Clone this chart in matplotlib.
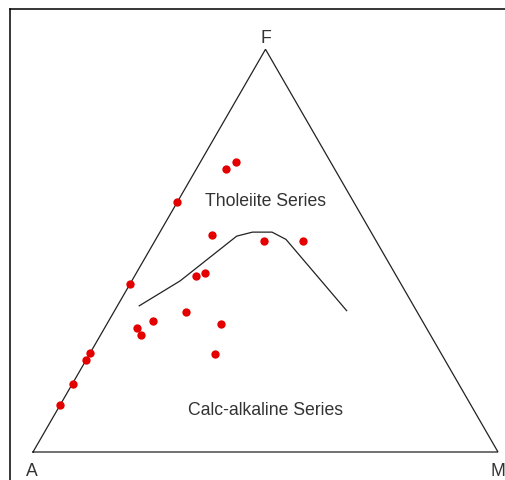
import numpy as np
import matplotlib
matplotlib.use("Agg")
import matplotlib.pyplot as plt
from matplotlib.lines import Line2D

# AFM ternary data: fractions of A (alkalis), F (FeO total), M (MgO)
sample_A = [0.203, 0.233, 0.380, 0.345, 0.241, 0.158, 0.408, 0.431, 0.582, 0.498,
            0.578, 0.622, 0.437, 0.622, 0.755, 0.772, 0.487, 0.830, 0.884]
sample_F = [0.719, 0.703, 0.620, 0.538, 0.524, 0.524, 0.445, 0.438, 0.418, 0.348,
            0.326, 0.307, 0.318, 0.291, 0.245, 0.228, 0.243, 0.170, 0.116]
sample_M = [0.078, 0.064, 0.000, 0.117, 0.235, 0.318, 0.147, 0.131, 0.000, 0.154,
            0.096, 0.071, 0.245, 0.087, 0.000, 0.000, 0.270, 0.000, 0.000]

# Tholeiitic / calc-alkaline dividing line
div_A = [0.590, 0.471, 0.294, 0.255, 0.213, 0.192, 0.150]
div_F = [0.363, 0.425, 0.536, 0.546, 0.546, 0.528, 0.351]
div_M = [0.047, 0.104, 0.170, 0.199, 0.241, 0.280, 0.499]

vertex_labels = ["A", "M", "F"]
field_labels = ["Tholeiite Series", "Calc-alkaline Series"]


def to_xy(a, f, m):
    a, f, m = (np.asarray(v, dtype=float) for v in (a, f, m))
    tot = a + f + m
    f = f / tot
    m = m / tot
    x = m + 0.5 * f
    y = f * np.sqrt(3) / 2
    return x, y


W, H = 505, 481
fig = plt.figure(figsize=(W / 100, H / 100), dpi=100)
ax = fig.add_axes([0, 0, 1, 1])
ax.set_axis_off()

# 1 triangle side = 465 px; A vertex at pixel (33, 453)
s = 465.0
ax.set_xlim(-33 / s, (W - 33) / s)
ax.set_ylim((453 - H) / s, 453 / s)
ax.set_aspect("equal")

# triangle outline
tx, ty = to_xy([1, 0, 0, 1], [0, 0, 1, 0], [0, 1, 0, 0])
ax.plot(tx, ty, color="#222222", lw=0.9, solid_joinstyle="miter")

# dividing curve
dx, dy = to_xy(div_A, div_F, div_M)
ax.plot(dx, dy, color="#222222", lw=0.9)

# samples
px, py = to_xy(sample_A, sample_F, sample_M)
ax.plot(px, py, "o", color="#e50000", markersize=6.0, markeredgewidth=0, zorder=3)

font = dict(family=["Liberation Sans", "DejaVu Sans"], color="#333333")
fs = 12.7

# vertex labels
ax.text(-0.002, -23 / s, vertex_labels[0], ha="center", va="baseline", fontsize=fs, **font)
ax.text(1.0, -23 / s, vertex_labels[1], ha="center", va="baseline", fontsize=fs, **font)
ax.text(0.5, 410 / s, vertex_labels[2], ha="center", va="baseline", fontsize=fs, **font)

# field labels
ax.text(0.5, 247 / s, field_labels[0], ha="center", va="baseline", fontsize=fs, **font)
ax.text(0.5, 38 / s, field_labels[1], ha="center", va="baseline", fontsize=fs, **font)

# outer frame (left and top edges)
fx = 9.5 / W
fy = 1 - 9.5 / H
fig.add_artist(Line2D([fx, 1], [fy, fy], color="black", lw=1.1, transform=fig.transFigure))
fig.add_artist(Line2D([fx, fx], [fy, 0], color="black", lw=1.1, transform=fig.transFigure))

fig.savefig("out.png", dpi=100)
